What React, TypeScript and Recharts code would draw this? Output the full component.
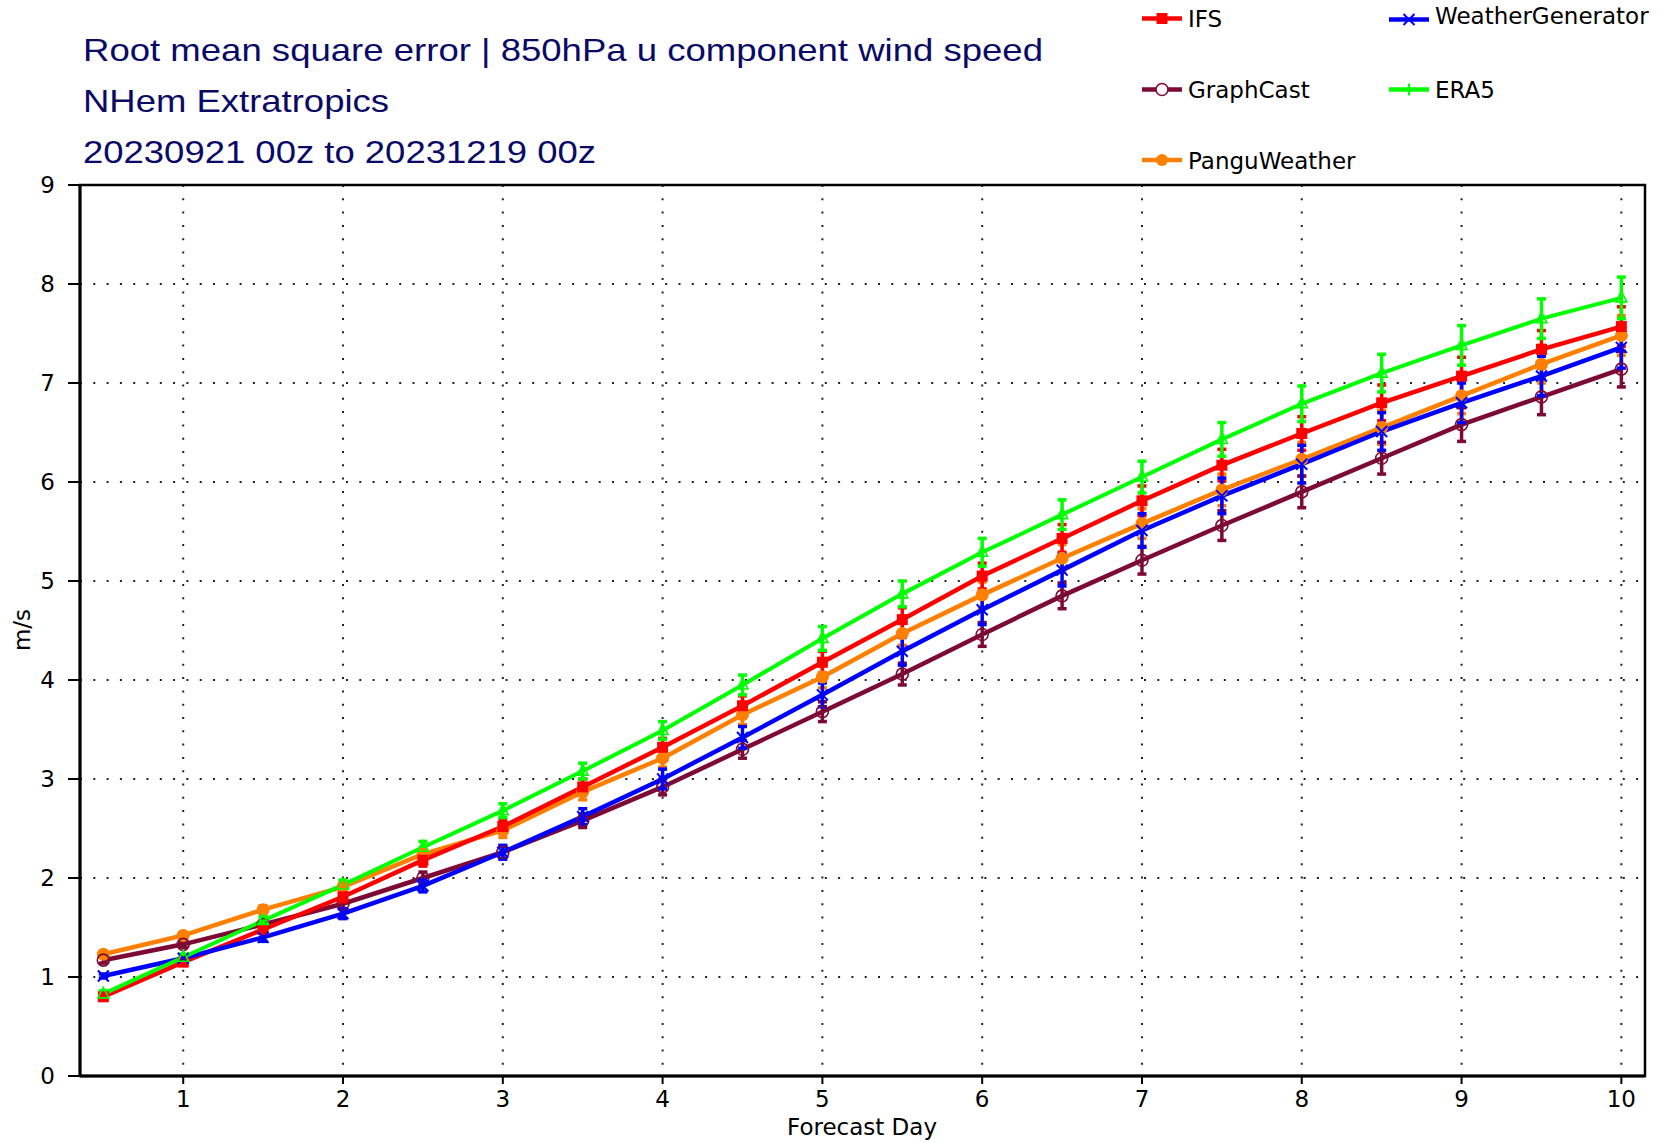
import React from 'react';
import { LineChart, Line, XAxis, YAxis, CartesianGrid, ErrorBar, ReferenceArea } from 'recharts';

// ---------- data ----------
const days = [0.5, 1, 1.5, 2, 2.5, 3, 3.5, 4, 4.5, 5, 5.5, 6, 6.5, 7, 7.5, 8, 8.5, 9, 9.5, 10];

const ifsValues = [0.80, 1.15, 1.48, 1.81, 2.18, 2.52, 2.92, 3.32, 3.74, 4.18, 4.61, 5.05, 5.43, 5.81, 6.17, 6.49, 6.80, 7.07, 7.34, 7.57];
const wgValues = [1.01, 1.19, 1.40, 1.64, 1.92, 2.26, 2.62, 3.00, 3.42, 3.85, 4.29, 4.71, 5.11, 5.51, 5.86, 6.18, 6.51, 6.80, 7.07, 7.36];
const graphcastValues = [1.17, 1.33, 1.53, 1.74, 2.00, 2.26, 2.58, 2.92, 3.30, 3.68, 4.06, 4.46, 4.85, 5.21, 5.56, 5.90, 6.24, 6.58, 6.86, 7.14];
const era5Values = [0.83, 1.20, 1.57, 1.93, 2.31, 2.68, 3.08, 3.49, 3.95, 4.42, 4.87, 5.29, 5.67, 6.05, 6.43, 6.79, 7.10, 7.38, 7.65, 7.86];
const panguValues = [1.23, 1.42, 1.68, 1.91, 2.24, 2.48, 2.87, 3.21, 3.65, 4.03, 4.47, 4.86, 5.23, 5.58, 5.92, 6.23, 6.55, 6.87, 7.19, 7.48];

const ifsErr = [0.03, 0.03, 0.04, 0.05, 0.06, 0.07, 0.08, 0.09, 0.10, 0.11, 0.12, 0.13, 0.14, 0.15, 0.16, 0.17, 0.18, 0.19, 0.19, 0.20];
const wgErr = [0.02, 0.03, 0.04, 0.05, 0.06, 0.07, 0.08, 0.10, 0.11, 0.12, 0.14, 0.15, 0.16, 0.17, 0.18, 0.19, 0.19, 0.20, 0.20, 0.21];
const graphcastErr = [0.03, 0.03, 0.04, 0.05, 0.06, 0.06, 0.07, 0.08, 0.09, 0.10, 0.11, 0.12, 0.13, 0.14, 0.15, 0.16, 0.16, 0.17, 0.18, 0.18];
const era5Err = [0.03, 0.03, 0.04, 0.05, 0.06, 0.07, 0.08, 0.09, 0.10, 0.12, 0.13, 0.14, 0.15, 0.16, 0.17, 0.18, 0.19, 0.20, 0.20, 0.21];
const panguErr = [0.03, 0.03, 0.04, 0.05, 0.06, 0.07, 0.08, 0.09, 0.10, 0.11, 0.12, 0.13, 0.14, 0.15, 0.16, 0.17, 0.17, 0.18, 0.19, 0.20];

const xTicks = [1, 2, 3, 4, 5, 6, 7, 8, 9, 10];
const yTicks = [0, 1, 2, 3, 4, 5, 6, 7, 8, 9];

const titleLines = [
  'Root mean square error | 850hPa u component wind speed',
  'NHem Extratropics',
  '20230921 00z to 20231219 00z',
];
const xLabel = 'Forecast Day';
const yLabel = 'm/s';

const data = days.map((d, i) => ({
  day: d,
  ifs: ifsValues[i], ifsErr: ifsErr[i],
  wg: wgValues[i], wgErr: wgErr[i],
  graphcast: graphcastValues[i], graphcastErr: graphcastErr[i],
  era5: era5Values[i], era5Err: era5Err[i],
  pangu: panguValues[i], panguErr: panguErr[i],
}));

type Marker = 'square' | 'ring' | 'disc' | 'cross' | 'triangle' | 'plus';

const series: { key: string; name: string; color: string; marker: Marker; width: number }[] = [
  { key: 'pangu', name: 'PanguWeather', color: '#ff8000', marker: 'disc', width: 4.5 },
  { key: 'graphcast', name: 'GraphCast', color: '#7d0a35', marker: 'ring', width: 4.5 },
  { key: 'ifs', name: 'IFS', color: '#ff0000', marker: 'square', width: 4.5 },
  { key: 'wg', name: 'WeatherGenerator', color: '#0000ff', marker: 'cross', width: 4.5 },
  { key: 'era5', name: 'ERA5', color: '#00ff00', marker: 'triangle', width: 4 },
];

// legend layout (styling only)
const legendItems: { key: string; x: number; y: number; textDy: number; marker: Marker }[] = [
  { key: 'ifs', x: 1142, y: 18.5, textDy: 8.5, marker: 'square' },
  { key: 'wg', x: 1389, y: 19.5, textDy: 4.5, marker: 'cross' },
  { key: 'graphcast', x: 1142, y: 89.5, textDy: 8.5, marker: 'ring' },
  { key: 'era5', x: 1389, y: 89.5, textDy: 8.5, marker: 'plus' },
  { key: 'pangu', x: 1142, y: 160, textDy: 8.5, marker: 'disc' },
];

const drawMarker = (kind: Marker, color: string, cx: number, cy: number, k: string, legend = false) => {
  switch (kind) {
    case 'square':
      return <rect key={k} x={cx - 5.5} y={cy - 5.5} width={11} height={11} fill={color} />;
    case 'ring':
      return <circle key={k} cx={cx} cy={cy} r={6} fill={legend ? '#fff' : 'none'} stroke={color} strokeWidth={1.6} />;
    case 'disc':
      return <circle key={k} cx={cx} cy={cy} r={legend ? 6 : 6.5} fill={color} />;
    case 'cross':
      return (
        <path key={k} d={`M${cx - 5.5},${cy - 5.5}L${cx + 5.5},${cy + 5.5}M${cx - 5.5},${cy + 5.5}L${cx + 5.5},${cy - 5.5}`}
          stroke={color} strokeWidth={2} fill="none" />
      );
    case 'triangle':
      return <path key={k} d={`M${cx},${cy - 6.5}L${cx + 5.5},${cy + 4}L${cx - 5.5},${cy + 4}Z`} fill="none" stroke={color} strokeWidth={1.6} />;
    case 'plus':
      return <path key={k} d={`M${cx},${cy - 6}L${cx},${cy + 6}`} stroke={color} strokeWidth={2} fill="none" />;
  }
  return <g key={k} />;
};

const makeDot = (kind: Marker, color: string) => (p: any) => {
  const k = `${kind}-${p.index}`;
  if (p.cx == null || p.cy == null) return <g key={k} />;
  return drawMarker(kind, color, p.cx, p.cy, k);
};

const tickStyle = { fontFamily: 'DejaVu Sans', fontSize: 23, fill: '#000' };
const titleFont = { fontFamily: 'Liberation Sans', fontSize: 32, fill: '#0a0a66' };

export default function App() {
  return (
    <div style={{ position: 'absolute', left: 0, top: 0, width: 1671, height: 1142, background: '#fff' }}>
      <LineChart
        width={1671}
        height={1142}
        data={data}
        margin={{ top: 185, right: 26, bottom: 0, left: 0 }}
      >
        <CartesianGrid stroke="#222" strokeWidth={2} strokeDasharray="2 11.3" />
        <XAxis
          dataKey="day"
          type="number"
          domain={[0.354, 10.148]}
          ticks={xTicks}
          allowDataOverflow
          height={66}
          tick={tickStyle}
          tickSize={8}
          tickMargin={7}
          tickLine={{ stroke: '#000', strokeWidth: 2 }}
          axisLine={{ stroke: '#000', strokeWidth: 3 }}
        />
        <YAxis
          type="number"
          domain={[0, 9]}
          ticks={yTicks}
          allowDataOverflow
          width={80}
          tick={tickStyle}
          tickSize={12}
          tickMargin={13}
          tickLine={{ stroke: '#000', strokeWidth: 2 }}
          axisLine={{ stroke: '#000', strokeWidth: 3 }}
        />
        <ReferenceArea x1={0.354} x2={10.148} y1={0} y2={9} fill="none" stroke="#000" strokeWidth={2.5} ifOverflow="visible" />
        {series.map((s) => (
          <Line
            key={s.key}
            dataKey={s.key}
            name={s.name}
            stroke={s.color}
            strokeWidth={s.width}
            type="linear"
            isAnimationActive={false}
            dot={makeDot(s.marker, s.color)}
            activeDot={false}
          >
            <ErrorBar dataKey={`${s.key}Err`} direction="y" width={4.5} strokeWidth={3.5} stroke={s.color} isAnimationActive={false} />
          </Line>
        ))}
      </LineChart>

      <svg
        width={1671}
        height={1142}
        style={{ position: 'absolute', left: 0, top: 0, pointerEvents: 'none' }}
      >
        {/* titles */}
        <text x={83} y={61} {...titleFont} textLength={960} lengthAdjust="spacingAndGlyphs">{titleLines[0]}</text>
        <text x={83} y={111.5} {...titleFont} textLength={306} lengthAdjust="spacingAndGlyphs">{titleLines[1]}</text>
        <text x={83} y={162.5} {...titleFont} textLength={513} lengthAdjust="spacingAndGlyphs">{titleLines[2]}</text>

        {/* axis titles */}
        <text x={862} y={1135} textAnchor="middle" fontFamily="DejaVu Sans" fontSize={23} fill="#000">{xLabel}</text>
        <text x={0} y={0} transform="translate(30,630) rotate(-90)" textAnchor="middle" fontFamily="DejaVu Sans" fontSize={23} fill="#000">{yLabel}</text>

        {/* legend */}
        {legendItems.map((it) => {
          const s = series.find((q) => q.key === it.key)!;
          return (
            <g key={it.key}>
              <line x1={it.x} y1={it.y} x2={it.x + 40} y2={it.y} stroke={s.color} strokeWidth={4.5} />
              {drawMarker(it.marker, s.color, it.x + 20, it.y, `lg-${it.key}`, true)}
              <text x={it.x + 46} y={it.y + it.textDy} fontFamily="DejaVu Sans" fontSize={23} fill="#000">{s.name}</text>
            </g>
          );
        })}
      </svg>
    </div>
  );
}
